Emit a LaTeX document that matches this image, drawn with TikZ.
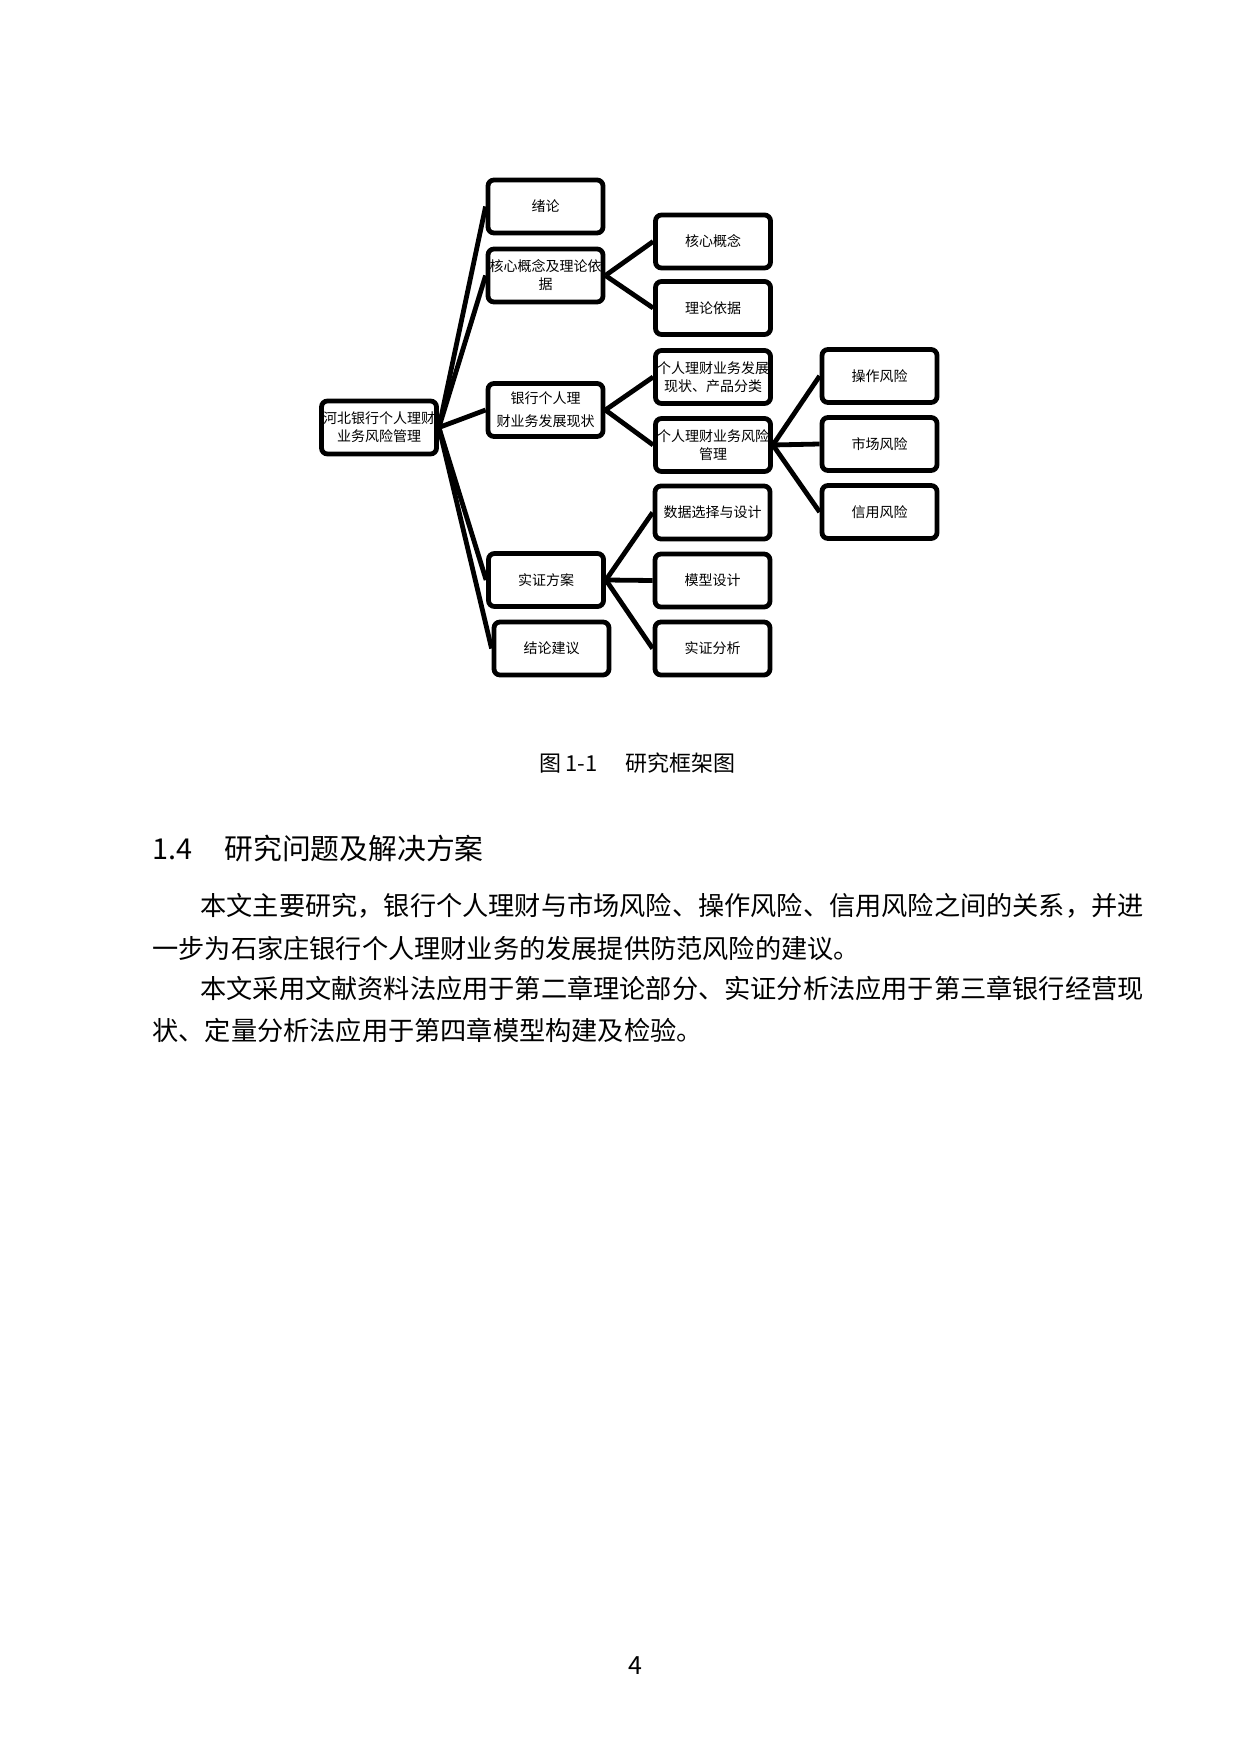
\documentclass[tikz,border=0pt]{standalone}
\usepackage{fontspec}
\setmainfont{Noto Sans CJK SC}
\usepackage{tikz}
\usetikzlibrary{shapes,positioning}
\tikzset{blk/.style={rectangle,draw,rounded corners=3pt,line width=2.4pt,minimum width=57.5pt,minimum height=26.5pt,inner sep=0.5pt,align=center,font=\fontsize{7pt}{9pt}\selectfont}}
\tikzset{txt/.style={anchor=base west,inner sep=0pt,font=\fontsize{13.1pt}{15pt}\selectfont}}

\begin{document}
\begin{tikzpicture}[x=0.5pt,y=-0.5pt,line width=2.4pt]
        \useasboundingbox (0,0) rectangle (1240,1754);

        \node[blk] (root) at (379,427.5) {河北银行个人理财\\业务风险管理};
        \node[blk] (xulun) at (545.5,206.5) {绪论};
        \node[blk] (hexin) at (545.5,275.5) {核心概念及理论依\\据};
        \node[blk] (yinhang) at (545.5,410) {银行个人理\\[2.5pt]财业务发展现状};
        \node[blk] (shizheng) at (546,580) {实证方案};
        \node[blk] (jielun) at (551.5,648.5) {结论建议};
        \node[blk] (gainian) at (713,241.5) {核心概念};
        \node[blk] (yiju) at (713,308) {理论依据};
        \node[blk] (xianzhuang) at (713,377) {个人理财业务发展\\现状、产品分类};
        \node[blk] (fengxian) at (713,445) {个人理财业务风险\\管理};
        \node[blk] (shuju) at (712.5,512.5) {数据选择与设计};
        \node[blk] (moxing) at (712.5,580.5) {模型设计};
        \node[blk] (fenxi) at (712.5,648.5) {实证分析};
        \node[blk] (caozuo) at (879.5,376) {操作风险};
        \node[blk] (shichang) at (879.5,444) {市场风险};
        \node[blk] (xinyong) at (879.5,512) {信用风险};

        \draw (root.east) to [] (xulun.west);
        \draw (root.east) to [] (hexin.west);
        \draw (root.east) to [] (yinhang.west);
        \draw (root.east) to [] (shizheng.west);
        \draw (root.east) to [] (jielun.west);
        \draw (hexin.east) to [] (gainian.west);
        \draw (hexin.east) to [] (yiju.west);
        \draw (yinhang.east) to [] (xianzhuang.west);
        \draw (yinhang.east) to [] (fengxian.west);
        \draw (fengxian.east) to [] (caozuo.west);
        \draw (fengxian.east) to [] (shichang.west);
        \draw (fengxian.east) to [] (xinyong.west);
        \draw (shizheng.east) to [] (shuju.west);
        \draw (shizheng.east) to [] (moxing.west);
        \draw (shizheng.east) to [] (fenxi.west);

        \node[txt,font=\fontsize{11pt}{13pt}\selectfont] (caption) at (537,771) {\makebox[13pt][l]{图}\makebox[30pt][l]{1-1}研究框架图};
        \node[txt,font=\fontsize{14.4pt}{17pt}\selectfont] (heading) at (150,859) {\makebox[36pt][l]{1.4}研究问题及解决方案};
        \node[txt] (line1) at (198,915) {本文主要研究，银行个人理财与市场风险、操作风险、信用风险之间的关系，并进};
        \node[txt] (line2) at (150,958) {一步为石家庄银行个人理财业务的发展提供防范风险的建议。};
        \node[txt] (line3) at (198,998) {本文采用文献资料法应用于第二章理论部分、实证分析法应用于第三章银行经营现};
        \node[txt] (line4) at (150,1040) {状、定量分析法应用于第四章模型构建及检验。};
        \node[inner sep=0pt,font=\fontsize{12.5pt}{14pt}\selectfont] (pagenum) at (635,1666) {4};
    \end{tikzpicture}
\end{document}
